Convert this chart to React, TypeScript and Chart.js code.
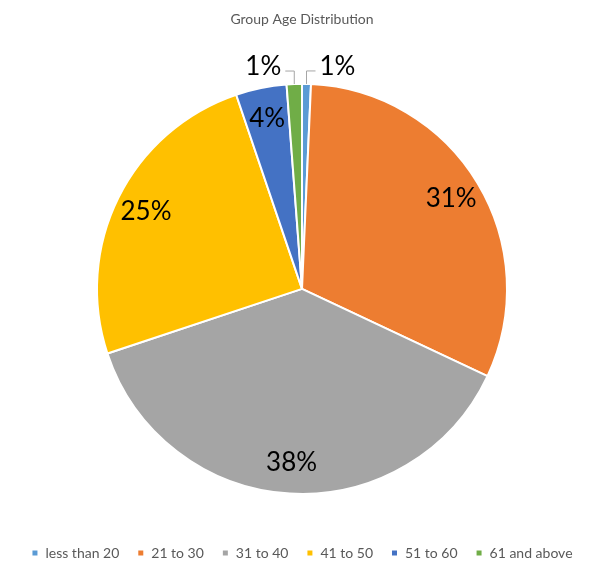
import { useEffect, useRef } from "react"
import { Chart, registerables } from "chart.js"

Chart.register(...registerables)

const ageGroups = ["less than 20", "21 to 30", "31 to 40", "41 to 50", "51 to 60", "61 and above"]
const shares = [0.7, 31.3, 37.9, 24.9, 4.0, 1.2]
const sliceColors = ["#5B9BD5", "#ED7D31", "#A5A5A5", "#FFC000", "#4472C4", "#70AD47"]

const FONT = "Lato, 'Open Sans', sans-serif"

// percentage labels, small slices get a leader line
const pieLabels = {
  id: "pieLabels",
  afterDatasetsDraw(chart: Chart) {
    const ctx = chart.ctx
    const meta = chart.getDatasetMeta(0)
    const data = chart.data.datasets[0].data as number[]
    const total = data.reduce((a, b) => a + b, 0)
    ctx.save()
    ctx.font = `26px ${FONT}`
    ctx.fillStyle = "#000000"
    meta.data.forEach((el: any, i) => {
      const { x, y, startAngle, endAngle, outerRadius } = el.getProps(
        ["x", "y", "startAngle", "endAngle", "outerRadius"],
        true
      )
      const pct = (data[i] / total) * 100
      const text = `${Math.round(pct)}%`
      const mid = (startAngle + endAngle) / 2
      if (pct >= 2) {
        const r = outerRadius * 0.85
        ctx.textAlign = "center"
        ctx.textBaseline = "middle"
        ctx.fillText(text, x + Math.cos(mid) * r, y + Math.sin(mid) * r)
      } else {
        const px = x + Math.cos(mid) * outerRadius
        const py = y + Math.sin(mid) * outerRadius
        const dir = px < x ? -1 : 1
        const ey = py - 13
        const ex = px + dir * 9
        ctx.strokeStyle = "#A6A6A6"
        ctx.lineWidth = 1
        ctx.beginPath()
        ctx.moveTo(px, py)
        ctx.lineTo(px, ey)
        ctx.lineTo(ex, ey)
        ctx.stroke()
        ctx.textAlign = dir < 0 ? "right" : "left"
        ctx.textBaseline = "middle"
        ctx.fillText(text, ex + dir * 4, ey - 4)
      }
    })
    ctx.restore()
  },
}

export default function App() {
  const chartRef = useRef<HTMLCanvasElement>(null)
  const chartInstance = useRef<Chart | null>(null)

  useEffect(() => {
    if (!chartRef.current) return
    if (chartInstance.current) chartInstance.current.destroy()
    const ctx = chartRef.current.getContext("2d")
    if (!ctx) return

    chartInstance.current = new Chart(ctx, {
      type: "pie",
      data: {
        labels: ageGroups,
        datasets: [
          {
            data: shares,
            backgroundColor: sliceColors,
            borderColor: "#ffffff",
            borderWidth: 2,
            radius: 205,
          },
        ],
      },
      options: {
        animation: false,
        responsive: false,
        layout: { padding: { left: 4, right: 0, top: 0, bottom: 9 } },
        plugins: {
          title: {
            display: true,
            text: "Group Age Distribution",
            color: "#595959",
            font: { family: FONT, size: 14, weight: "normal" },
            padding: { top: 11, bottom: 22 },
          },
          legend: {
            position: "bottom",
            labels: {
              usePointStyle: true,
              pointStyle: "rect",
              boxWidth: 7,
              boxHeight: 7,
              padding: 18,
              color: "#595959",
              font: { family: FONT, size: 14 },
            },
          },
          tooltip: { enabled: false },
        },
      },
      plugins: [pieLabels],
    })

    return () => {
      if (chartInstance.current) {
        chartInstance.current.destroy()
        chartInstance.current = null
      }
    }
  }, [])

  return (
    <div style={{ position: "absolute", left: 0, top: 0, width: 600, height: 579, background: "#fff" }}>
      <canvas ref={chartRef} width={600} height={579} />
    </div>
  )
}
